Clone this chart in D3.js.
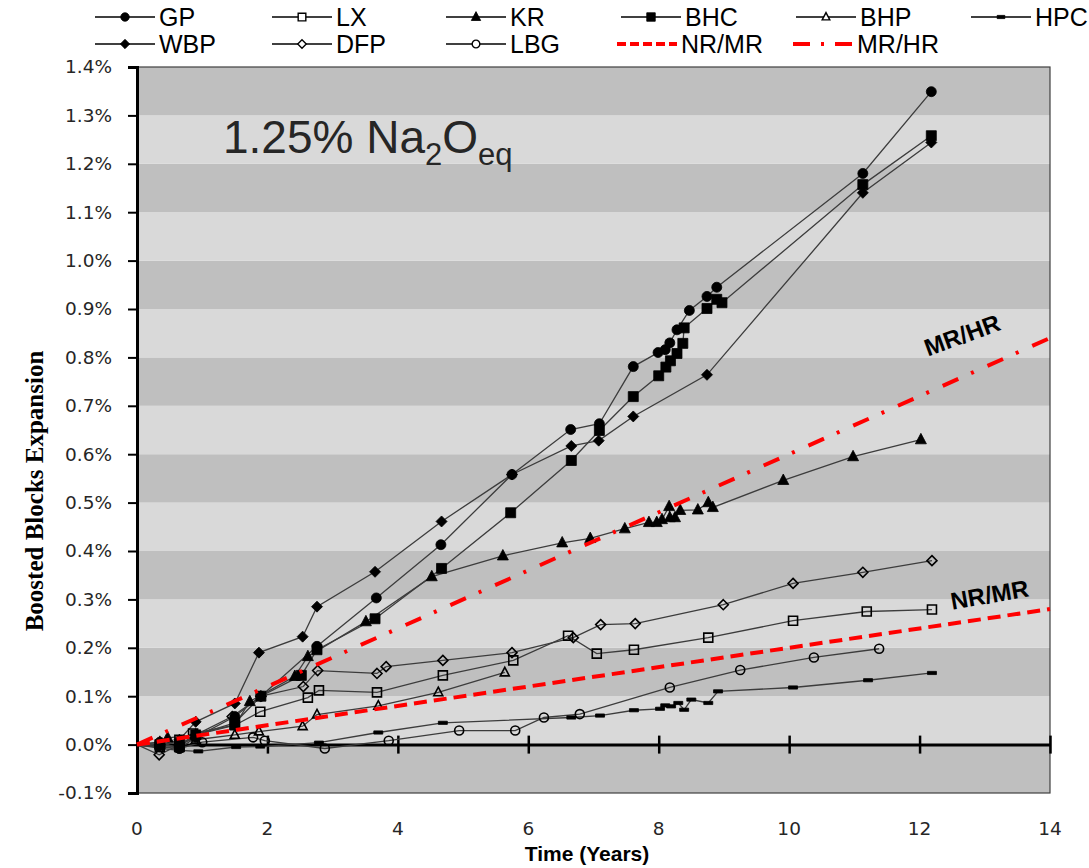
<!DOCTYPE html>
<html><head><meta charset="utf-8">
<script src="https://cdn.jsdelivr.net/npm/d3@7"></script>
<style>body{margin:0;background:#fff;}</style>
</head><body><svg id="c" width="1089" height="868"></svg>
<script>
// ---- data (time in years, expansion in %) ----
const GP = [[0,0],[0.35,0.005],[0.65,-0.008],[0.9,0.015],[1.5,0.058],[1.9,0.10],[2.76,0.203],[3.67,0.303],[4.66,0.413],[5.75,0.558],[6.65,0.651],[7.09,0.663],[7.61,0.781],[7.99,0.810],[8.10,0.816],[8.17,0.830],[8.28,0.857],[8.47,0.897],[8.74,0.926],[8.89,0.945],[11.13,1.180],[12.18,1.349]];
const LX = [[0,0],[0.35,-0.005],[0.65,0.01],[0.86,0.023],[1.5,0.04],[1.89,0.068],[2.62,0.097],[2.79,0.112],[3.68,0.108],[4.69,0.143],[5.77,0.174],[6.61,0.225],[7.05,0.188],[7.62,0.196],[8.76,0.221],[10.06,0.256],[11.19,0.275],[12.19,0.279]];
const KR = [[0,0],[0.35,0.005],[0.47,0.014],[0.9,0.02],[1.5,0.04],[1.73,0.089],[2.42,0.141],[2.62,0.182],[3.51,0.254],[4.52,0.347],[5.61,0.390],[6.52,0.417],[6.95,0.426],[7.48,0.446],[7.85,0.459],[7.97,0.459],[8.05,0.465],[8.16,0.492],[8.17,0.469],[8.25,0.469],[8.33,0.484],[8.60,0.485],[8.76,0.500],[8.83,0.490],[9.91,0.546],[10.98,0.595],[12.02,0.630]];
const BHC = [[0,0],[0.35,0.0],[0.65,-0.005],[0.9,0.02],[1.5,0.045],[1.9,0.10],[2.52,0.143],[2.76,0.196],[3.65,0.260],[4.67,0.364],[5.73,0.479],[6.66,0.587],[7.09,0.649],[7.61,0.719],[8.0,0.762],[8.11,0.780],[8.18,0.793],[8.28,0.808],[8.37,0.829],[8.39,0.861],[8.74,0.901],[8.89,0.920],[8.97,0.913],[11.13,1.157],[12.18,1.258]];
const BHP = [[0,0],[0.35,0.0],[0.65,0.005],[0.9,0.01],[1.5,0.02],[1.87,0.027],[2.54,0.038],[2.76,0.062],[3.70,0.080],[4.62,0.108],[5.64,0.149]];
const HPC = [[0,0],[0.35,-0.008],[0.65,-0.012],[0.94,-0.014],[1.52,-0.005],[1.89,-0.004],[2.79,0.004],[3.70,0.025],[4.69,0.045],[6.66,0.056],[7.10,0.060],[7.62,0.071],[8.02,0.074],[8.10,0.081],[8.19,0.079],[8.30,0.086],[8.39,0.072],[8.50,0.093],[8.76,0.086],[8.91,0.110],[10.06,0.118],[11.21,0.133],[12.19,0.148]];
const WBP = [[0,0],[0.35,0.0],[0.65,0.01],[0.9,0.047],[1.5,0.085],[1.87,0.19],[2.54,0.223],[2.76,0.285],[3.65,0.357],[4.67,0.461],[5.75,0.558],[6.66,0.617],[7.08,0.628],[7.61,0.678],[8.74,0.764],[11.13,1.140],[12.18,1.244]];
const DFP = [[0,0],[0.34,-0.021],[0.65,0.0],[0.9,0.02],[1.46,0.058],[1.9,0.10],[2.55,0.120],[2.77,0.153],[3.68,0.147],[3.82,0.161],[4.69,0.174],[5.75,0.190],[6.69,0.221],[7.11,0.248],[7.64,0.250],[8.99,0.289],[10.06,0.333],[11.13,0.356],[12.19,0.380]];
const LBG = [[0,0],[0.35,-0.005],[0.65,-0.008],[1.0,0.005],[1.78,0.015],[1.96,0.008],[2.88,-0.008],[3.86,0.008],[4.94,0.029],[5.80,0.029],[6.24,0.056],[6.79,0.063],[8.17,0.118],[9.25,0.154],[10.38,0.180],[11.38,0.198]];
const NR_MR = [[0,0],[14,0.28]];
const MR_HR = [[0,0],[14,0.84]];
const yTicks = [-0.1,0,0.1,0.2,0.3,0.4,0.5,0.6,0.7,0.8,0.9,1.0,1.1,1.2,1.3,1.4];
const xTicks = [0,2,4,6,8,10,12,14];
const seriesNames = ["GP","LX","KR","BHC","BHP","HPC","WBP","DFP","LBG"];
const refNames = ["NR/MR","MR/HR"];

// ---- setup ----
const series = {GP,LX,KR,BHC,BHP,HPC,WBP,DFP,LBG};
const mk = {
  GP:{t:'circle',s:5,f:true}, LX:{t:'square',s:4.5,f:false}, KR:{t:'triangle',s:5.5,f:true},
  BHC:{t:'square',s:5,f:true}, BHP:{t:'triangle',s:4.5,f:false}, HPC:{t:'dash',s:4.5,f:true},
  WBP:{t:'diamond',s:5.5,f:true}, DFP:{t:'diamond',s:5,f:false}, LBG:{t:'circle',s:4.5,f:false}
};
function mpath(t,s){
  switch(t){
    case 'circle': return `M${-s},0A${s},${s} 0 1,1 ${s},0A${s},${s} 0 1,1 ${-s},0Z`;
    case 'square': return `M${-s},${-s}H${s}V${s}H${-s}Z`;
    case 'triangle': return `M0,${-s*1.15}L${s},${s*0.75}L${-s},${s*0.75}Z`;
    case 'diamond': return `M0,${-s}L${s},0L0,${s}L${-s},0Z`;
    case 'dash': return `M${-s},-1.6H${s}V1.6H${-s}Z`;
  }
}
const L=137,R=1050,T=67,B=793;
const x = d3.scaleLinear().domain([0,14]).range([L,R]);
const y = d3.scaleLinear().domain([-0.1,1.4]).range([B,T]);
const svg = d3.select('#c');

// bands
const bands = yTicks.slice(0,-1);
svg.append('g').selectAll('rect').data(bands).join('rect')
  .attr('x',L).attr('width',R-L)
  .attr('y',d=>y(d+0.1)).attr('height',d=>y(d)-y(d+0.1))
  .attr('fill',(d,i)=> i%2===0 ? '#bfbfbf' : '#d9d9d9');
svg.append('rect').attr('x',L).attr('y',T).attr('width',R-L).attr('height',B-T)
  .attr('fill','none').attr('stroke','#404040').attr('stroke-width',1.2);

// y axis
const yAx = svg.append('g').attr('transform',`translate(${L},0)`)
  .call(d3.axisLeft(y).tickValues(yTicks).tickSize(9).tickPadding(16)
    .tickFormat(d=>(d<0?'-':'')+d3.format('.1f')(Math.abs(d))+'%'));
yAx.select('.domain').attr('stroke','#000').attr('stroke-width',3);
yAx.selectAll('.tick line').attr('stroke','#000').attr('stroke-width',2);
yAx.selectAll('.tick text').attr('font-family','DejaVu Sans, sans-serif').attr('font-size',18.5).attr('fill','#262626');

// x axis at y=0
const xAx = svg.append('g').attr('transform',`translate(0,${y(0)})`)
  .call(d3.axisBottom(x).tickValues(xTicks).tickSizeInner(9).tickSizeOuter(0).tickFormat(''));
xAx.select('.domain').attr('stroke','#000').attr('stroke-width',3);
xAx.selectAll('.tick line').attr('stroke','#000').attr('stroke-width',2.5).attr('y1',-9).attr('y2',9);
// x tick labels at bottom
svg.append('g').selectAll('text').data(xTicks).join('text')
  .attr('x',d=>x(d)).attr('y',835).attr('text-anchor','middle')
  .attr('font-family','DejaVu Sans, sans-serif').attr('font-size',18.5).attr('fill','#262626')
  .text(d=>d);

// series lines
const line = d3.line().x(d=>x(d[0])).y(d=>y(d[1]));
const gS = svg.append('g');
seriesNames.forEach(n=>{
  gS.append('path').datum(series[n]).attr('d',line).attr('fill','none')
    .attr('stroke','#3c3c3c').attr('stroke-width',1.3);
});
seriesNames.forEach(n=>{
  const m = mk[n];
  gS.append('g').selectAll('path').data(series[n].slice(1)).join('path')
    .attr('transform',d=>`translate(${x(d[0])},${y(d[1])})`)
    .attr('d',mpath(m.t,m.s))
    .attr('fill',m.f?'#000':'none').attr('stroke','#000').attr('stroke-width',m.f?0.8:1.6);
});

// reference lines
svg.append('path').datum(NR_MR).attr('d',line).attr('fill','none').attr('stroke','#ff0000')
  .attr('stroke-width',4).attr('stroke-dasharray','13,7');
svg.append('path').datum(MR_HR).attr('d',line).attr('fill','none').attr('stroke','#ff0000')
  .attr('stroke-width',4).attr('stroke-dasharray','17,14,3,15');

// annotations
svg.append('text').attr('transform','translate(965,343) rotate(-20)').attr('text-anchor','middle')
  .attr('font-family','Liberation Sans, Arial, sans-serif').attr('font-weight','bold').attr('font-size',24)
  .attr('fill','#000').text('MR/HR');
svg.append('text').attr('transform','translate(991,603) rotate(-10)').attr('text-anchor','middle')
  .attr('font-family','Liberation Sans, Arial, sans-serif').attr('font-weight','bold').attr('font-size',24)
  .attr('fill','#000').text('NR/MR');

const ttl = svg.append('text').attr('x',223).attr('y',153)
  .attr('font-family','Liberation Sans, Arial, sans-serif').attr('font-size',46).attr('fill','#262626');
ttl.append('tspan').text('1.25% Na');
ttl.append('tspan').attr('font-size',31).attr('dy',12).text('2');
ttl.append('tspan').attr('dy',-12).text('O');
ttl.append('tspan').attr('font-size',31).attr('dy',12).text('eq');

// axis titles
svg.append('text').attr('transform','translate(43,491) rotate(-90)').attr('text-anchor','middle')
  .attr('font-family','Liberation Serif, Times New Roman, serif').attr('font-weight','bold').attr('font-size',25)
  .attr('fill','#000').text('Boosted Blocks Expansion');
svg.append('text').attr('x',587).attr('y',861).attr('text-anchor','middle')
  .attr('font-family','Liberation Sans, Arial, sans-serif').attr('font-weight','bold').attr('font-size',21)
  .attr('fill','#000').text('Time (Years)');

// legend
const legItems = [
  {n:'GP',x:95,row:0},{n:'LX',x:272,row:0},{n:'KR',x:446,row:0},{n:'BHC',x:621,row:0},{n:'BHP',x:796,row:0},{n:'HPC',x:971,row:0},
  {n:'WBP',x:95,row:1},{n:'DFP',x:272,row:1},{n:'LBG',x:446,row:1},{n:'NR/MR',x:617,row:1,ref:'dash'},{n:'MR/HR',x:793,row:1,ref:'dashdot'}
];
const lg = svg.append('g');
legItems.forEach(it=>{
  const cy = it.row===0 ? 17 : 44;
  const len = 60;
  if(it.ref){
    lg.append('line').attr('x1',it.x).attr('x2',it.x+len).attr('y1',cy).attr('y2',cy)
      .attr('stroke','#ff0000').attr('stroke-width',4)
      .attr('stroke-dasharray', it.ref==='dash' ? '9,4' : '17,11,3,11');
  } else {
    lg.append('line').attr('x1',it.x).attr('x2',it.x+len).attr('y1',cy).attr('y2',cy)
      .attr('stroke','#000').attr('stroke-width',1.3);
    const m = mk[it.n];
    lg.append('path').attr('transform',`translate(${it.x+len/2},${cy})`).attr('d',mpath(m.t,m.s*0.85))
      .attr('fill',m.f?'#000':'#fff').attr('stroke','#000').attr('stroke-width',m.f?0.8:1.4);
  }
  lg.append('text').attr('x',it.x+len+4).attr('y',cy+9)
    .attr('font-family','Liberation Sans, Arial, sans-serif').attr('font-size',25)
    .attr('fill','#000').text(it.n);
});
</script></body></html>
